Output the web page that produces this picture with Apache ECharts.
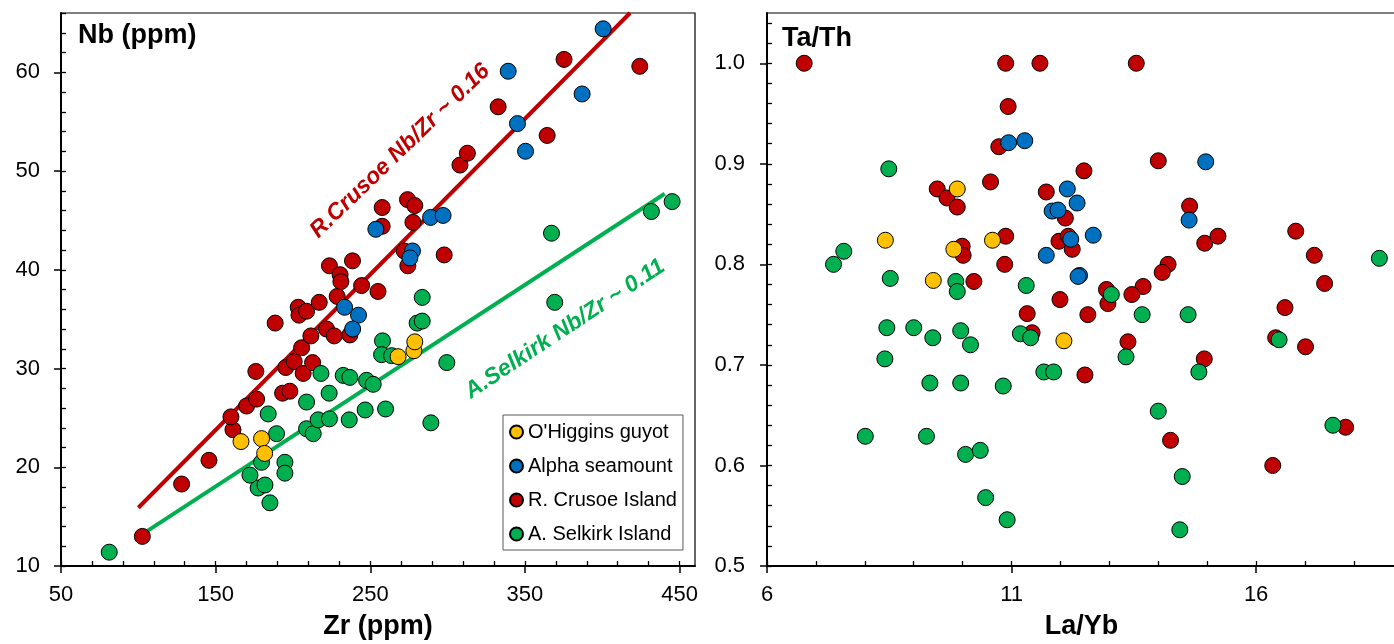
<!DOCTYPE html>
<html>
<head>
<meta charset="utf-8">
<script src="https://cdn.jsdelivr.net/npm/echarts@6/dist/echarts.min.js"></script>
<style>
html,body{margin:0;padding:0;background:#fff;}
#chart{width:1394px;height:644px;}
</style>
</head>
<body>
<div id="chart"></div>
<script>
// ---------- Left panel: Zr vs Nb ----------
const ohigginsZr = [166.4, 179.7, 181.7, 268.0, 278.2, 278.8];
const ohigginsNb = [22.6, 22.9, 21.4, 31.2, 31.8, 32.7];

const alphaZr = [400.6, 339.2, 387.0, 345.2, 350.4, 289.0, 297.1, 253.6, 277.3, 275.6, 233.4, 242.4, 238.6];
const alphaNb = [64.4, 60.1, 57.8, 54.8, 52.0, 45.3, 45.5, 44.1, 41.9, 41.2, 36.2, 35.4, 34.0];

const crusoeZr = [102.6, 128, 145.7, 161.2, 159.9, 170, 176.5, 176, 188.5, 193.3, 198, 195.4, 200.8, 206.6, 212.7,
  205.6, 211.6, 203.4, 203.9, 208.8, 217, 221.7, 226.7, 236.8, 228.6, 223.6, 230.5, 231, 238.5, 244.4,
  255, 257.7, 257.7, 272, 274.3, 274.1, 278.8, 277.6, 297.8, 308, 312.8, 332.7, 364.4, 375.3, 424.3];
const crusoeNb = [13.0, 18.3, 20.7, 23.8, 25.1, 26.2, 26.9, 29.7, 34.6, 27.5, 27.7, 30.1, 30.7, 29.5, 30.6,
  32.1, 33.3, 36.2, 35.4, 35.8, 36.7, 34.0, 33.3, 33.4, 37.3, 40.4, 39.5, 38.8, 40.9, 38.4,
  37.8, 44.4, 46.3, 41.9, 40.4, 47.1, 46.5, 44.8, 41.5, 50.6, 51.8, 56.5, 53.6, 61.3, 60.6];

const selkirkZr = [81.2, 185.1, 177.5, 181.9, 172.2, 194.8, 194.8, 179.7, 189.4, 184, 208.8, 213.1, 216.3, 208.8, 218.1,
  223.4, 223.6, 236.4, 232.5, 236.8, 247.6, 251.9, 246.7, 259.9, 289.2, 299.5, 257.9, 257.3, 263.8, 280.3,
  283.6, 283.6, 367.2, 369.3, 431.8, 445.2];
const selkirkNb = [11.4, 16.4, 17.9, 18.2, 19.2, 20.5, 19.4, 20.5, 23.4, 25.4, 23.9, 23.4, 24.8, 26.6, 29.5,
  27.5, 24.9, 24.8, 29.3, 29.1, 28.8, 28.4, 25.8, 25.9, 24.5, 30.6, 32.8, 31.4, 31.3, 34.6,
  34.8, 37.2, 43.7, 36.7, 45.9, 46.9];

// trend lines (end points)
const crusoeTrend = [[100, 15.9], [418, 66]];
const selkirkTrend = [[105.4, 13.5], [440.4, 47.7]];

// ---------- Right panel: La/Yb vs Ta/Th ----------
const ohigginsLaYb = [9.89, 8.42, 9.40, 9.82, 10.61, 12.07];
const ohigginsTaTh = [0.875, 0.824, 0.784, 0.815, 0.824, 0.724];

const alphaLaYb = [10.94, 11.27, 11.71, 11.83, 11.95, 12.14, 12.34, 12.21, 12.67, 12.39, 12.36, 14.97, 14.63];
const alphaTaTh = [0.921, 0.923, 0.809, 0.853, 0.854, 0.875, 0.861, 0.825, 0.829, 0.789, 0.788, 0.902, 0.844];

const crusoeLaYb = [6.76, 10.88, 11.58, 13.55, 10.93, 10.74, 9.48, 9.68, 9.89, 10.57, 11.71, 9.99, 10.01, 10.88, 10.86,
  10.23, 11.32, 12.48, 12.10, 11.97, 12.16, 12.24, 12.94, 12.97, 11.99, 12.56, 11.42, 12.50, 14.0, 14.64,
  14.95, 15.22, 14.2, 14.08, 13.69, 13.46, 13.38, 14.94, 16.81, 17.19, 17.40, 16.59, 16.40, 17.01, 17.83,
  14.25, 16.34];
const crusoeTaTh = [1.0, 1.0, 1.0, 1.0, 0.957, 0.917, 0.875, 0.866, 0.857, 0.882, 0.872, 0.818, 0.809, 0.828, 0.800,
  0.783, 0.751, 0.893, 0.846, 0.823, 0.828, 0.815, 0.775, 0.761, 0.765, 0.750, 0.732, 0.690, 0.903, 0.858,
  0.821, 0.828, 0.800, 0.792, 0.778, 0.770, 0.723, 0.706, 0.833, 0.809, 0.781, 0.757, 0.727, 0.718, 0.638,
  0.625, 0.600];

const selkirkLaYb = [8.49, 7.57, 7.36, 8.52, 9.86, 9.89, 11.30, 13.04, 11.18, 11.39, 11.66, 11.86, 8.45, 9.0, 9.39,
  9.96, 10.16, 8.41, 9.33, 9.96, 10.83, 8.01, 9.26, 10.06, 10.36, 10.47, 10.91, 13.67, 14.61, 13.34,
  14.83, 14.0, 18.52, 16.47, 17.57, 14.49, 14.44];
const selkirkTaTh = [0.895, 0.813, 0.800, 0.786, 0.783, 0.773, 0.779, 0.770, 0.731, 0.727, 0.693, 0.693, 0.737, 0.737, 0.727,
  0.734, 0.720, 0.706, 0.682, 0.682, 0.679, 0.629, 0.629, 0.611, 0.615, 0.568, 0.546, 0.750, 0.750, 0.708,
  0.693, 0.654, 0.806, 0.725, 0.640, 0.589, 0.536];

// ---------- tick labels ----------
const zrTicks = [50, 150, 250, 350, 450];
const nbTicks = [10, 20, 30, 40, 50, 60];
const layTicks = [6, 11, 16];
const tathTicks = [0.5, 0.6, 0.7, 0.8, 0.9, 1.0];

const groups = ["O'Higgins guyot", "Alpha seamount", "R. Crusoe Island", "A. Selkirk Island"];

// ---------- styling ----------
const FONT = "'Liberation Sans', Arial, Helvetica, sans-serif";
const COLORS = {
  "O'Higgins guyot": '#FFC000',
  "Alpha seamount": '#0070C0',
  "R. Crusoe Island": '#C00000',
  "A. Selkirk Island": '#00B050'
};

function zip(a, b) { return a.map((v, i) => [v, b[i]]); }
function steps(min, max, step) {
  const out = []; const n = Math.round((max - min) / step);
  for (let i = 0; i <= n; i++) out.push(+(min + i * step).toFixed(6));
  return out;
}

const LEFT = { min: 50, max: 460, ymin: 10, ymax: 66 };
const RIGHT = { min: 6, max: 18.86, ymin: 0.5, ymax: 1.05 };

function majorAxis(grid, pos, min, max, ticks, fmt, margin, name, nameGap) {
  return {
    type: 'value', gridIndex: grid, position: pos, min: min, max: max,
    axisLine: { show: true, onZero: false, lineStyle: { color: '#000', width: 2 } },
    axisTick: { show: true, inside: false, length: 7, customValues: ticks, lineStyle: { color: '#000', width: 1.5 } },
    axisLabel: { show: true, customValues: ticks, formatter: fmt, margin: margin, color: '#000', fontSize: 22, fontFamily: FONT },
    splitLine: { show: false },
    name: name || '', nameLocation: 'middle', nameGap: nameGap || 0,
    nameTextStyle: { fontSize: 27, fontWeight: 'bold', color: '#000', fontFamily: FONT }
  };
}
function minorAxis(grid, pos, min, max, ticks) {
  return {
    type: 'value', gridIndex: grid, position: pos, min: min, max: max,
    axisLine: { show: false, onZero: false },
    axisTick: { show: true, inside: true, length: 5, customValues: ticks, lineStyle: { color: '#000', width: 1.3 } },
    axisLabel: { show: false },
    splitLine: { show: false }
  };
}

const series = [];
const leftSets = {
  "R. Crusoe Island": zip(crusoeZr, crusoeNb),
  "A. Selkirk Island": zip(selkirkZr, selkirkNb),
  "Alpha seamount": zip(alphaZr, alphaNb),
  "O'Higgins guyot": zip(ohigginsZr, ohigginsNb)
};
const rightSets = {
  "R. Crusoe Island": zip(crusoeLaYb, crusoeTaTh),
  "A. Selkirk Island": zip(selkirkLaYb, selkirkTaTh),
  "Alpha seamount": zip(alphaLaYb, alphaTaTh),
  "O'Higgins guyot": zip(ohigginsLaYb, ohigginsTaTh)
};

series.push({
  type: 'line', xAxisIndex: 0, yAxisIndex: 0, data: crusoeTrend, symbol: 'none', silent: true,
  lineStyle: { color: '#C00000', width: 4 }, z: 1
});
series.push({
  type: 'line', xAxisIndex: 0, yAxisIndex: 0, data: selkirkTrend, symbol: 'none', silent: true,
  lineStyle: { color: '#00B050', width: 4 }, z: 1
});

let z = 3;
Object.keys(leftSets).forEach(name => {
  const style = { color: COLORS[name], borderColor: '#000', borderWidth: 1, opacity: 1 };
  series.push({ name: name, type: 'scatter', xAxisIndex: 0, yAxisIndex: 0, data: leftSets[name],
    symbol: 'circle', symbolSize: 16, itemStyle: style, z: z });
  series.push({ name: name, type: 'scatter', xAxisIndex: 2, yAxisIndex: 2, data: rightSets[name],
    symbol: 'circle', symbolSize: 16, itemStyle: style, z: z });
  z++;
});

const option = {
  backgroundColor: '#fff',
  animation: false,
  grid: [
    { left: 61, top: 13, width: 634, height: 553, show: true, borderColor: '#000', borderWidth: 1.2,
      backgroundColor: 'transparent', containLabel: false, outerBoundsMode: 'none' },
    { left: 767, top: 13, width: 629, height: 553, show: true, borderColor: '#000', borderWidth: 1.2,
      backgroundColor: 'transparent', containLabel: false, outerBoundsMode: 'none' }
  ],
  xAxis: [
    majorAxis(0, 'bottom', LEFT.min, LEFT.max, zrTicks, v => String(v), 18, 'Zr (ppm)', 47),
    minorAxis(0, 'bottom', LEFT.min, LEFT.max, steps(50, 450, 20)),
    majorAxis(1, 'bottom', RIGHT.min, RIGHT.max, layTicks, v => String(v), 18, 'La/Yb', 47),
    minorAxis(1, 'bottom', RIGHT.min, RIGHT.max, steps(6, 18, 1))
  ],
  yAxis: [
    majorAxis(0, 'left', LEFT.ymin, LEFT.ymax, nbTicks, v => String(v), 21),
    minorAxis(0, 'left', LEFT.ymin, LEFT.ymax, steps(10, 66, 2)),
    majorAxis(1, 'left', RIGHT.ymin, RIGHT.ymax, tathTicks, v => v.toFixed(1), 22),
    minorAxis(1, 'left', RIGHT.ymin, RIGHT.ymax, steps(0.5, 1.04, 0.02))
  ],
  legend: {
    data: groups,
    orient: 'vertical', left: 503, top: 415,
    padding: [7, 6, 6, 6], itemGap: 14, itemWidth: 13, itemHeight: 13,
    icon: 'circle',
    backgroundColor: '#fff', borderColor: '#595959', borderWidth: 1, borderRadius: 0,
    textStyle: { fontSize: 20, color: '#000', fontFamily: FONT },
    selectedMode: false
  },
  graphic: [
    { type: 'text', x: 78, y: 36, z: 100,
      style: { text: 'Nb (ppm)', fill: '#000', font: "bold 27px " + FONT, align: 'left', verticalAlign: 'middle', textAlign: 'left', textVerticalAlign: 'middle' } },
    { type: 'text', x: 782, y: 39, z: 100,
      style: { text: 'Ta/Th', fill: '#000', font: "bold 27px " + FONT, align: 'left', verticalAlign: 'middle', textAlign: 'left', textVerticalAlign: 'middle' } },
    { type: 'text', x: 400, y: 151, rotation: 44 * Math.PI / 180, z: 100,
      style: { text: 'R.Crusoe Nb/Zr ~ 0.16', fill: '#C00000', font: "italic bold 23px " + FONT, align: 'center', verticalAlign: 'middle', textAlign: 'center', textVerticalAlign: 'middle' } },
    { type: 'text', x: 565, y: 329, rotation: 33.5 * Math.PI / 180, z: 100,
      style: { text: 'A.Selkirk Nb/Zr ~ 0.11', fill: '#00B050', font: "italic bold 23px " + FONT, align: 'center', verticalAlign: 'middle', textAlign: 'center', textVerticalAlign: 'middle' } }
  ],
  series: series
};

const chart = echarts.init(document.getElementById('chart'), null, { renderer: 'canvas' });
chart.setOption(option);
</script>
</body>
</html>
